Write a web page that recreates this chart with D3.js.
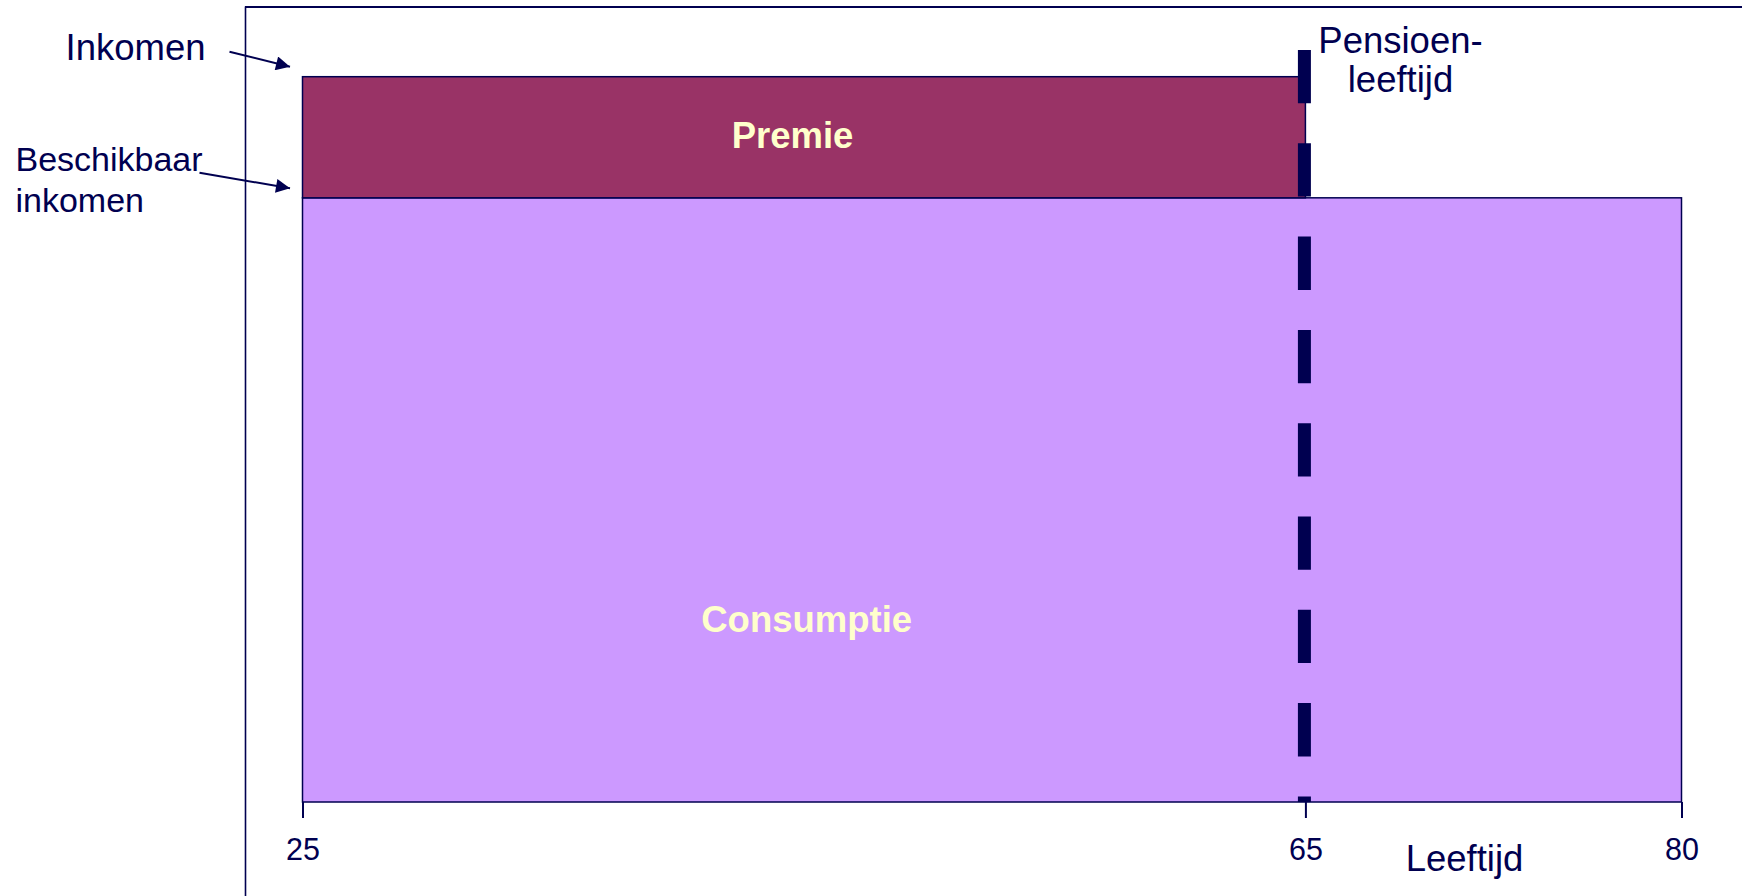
<!DOCTYPE html>
<html>
<head>
<meta charset="utf-8">
<script src="https://cdn.jsdelivr.net/npm/d3@7"></script>
<style>
  html, body { margin: 0; padding: 0; background: #ffffff; }
  svg { display: block; }
  text { font-family: "Liberation Sans", Arial, sans-serif; }
</style>
</head>
<body>
<svg id="chart" width="1742" height="896"></svg>
<script>
// Life-cycle phases (age) and income levels
const ages = [25, 65, 80];            // start of work, retirement age, end of life
const tickLabels = ["25", "65", "80"];
const incomeLevel = 100;              // gross income (Inkomen)
const disposableLevel = 83.3;         // disposable income (Beschikbaar inkomen)
const blockNames = ["Premie", "Consumptie"];
const sideLabels = ["Inkomen", "Beschikbaar", "inkomen"];
const retireLabel = ["Pensioen-", "leeftijd"];
const axisTitle = "Leeftijd";

const navy = "#000050";
const svg = d3.select("#chart");

const x = d3.scaleLinear().domain([ages[0], ages[2]]).range([302.5, 1681.5]);
const y = d3.scaleLinear().domain([0, incomeLevel]).range([802, 76.7]);

// frame lines (left and top)
svg.append("line").attr("x1", 245.5).attr("x2", 245.5).attr("y1", 6.5).attr("y2", 896)
  .attr("stroke", navy).attr("stroke-width", 1.6);
svg.append("line").attr("x1", 245).attr("x2", 1742).attr("y1", 7).attr("y2", 7)
  .attr("stroke", navy).attr("stroke-width", 2);

// blocks: premium paid during working life, consumption over whole life
const blocks = [
  { name: blockNames[1], x0: ages[0], x1: ages[2], y0: 0, y1: disposableLevel, fill: "#CC99FF" },
  { name: blockNames[0], x0: ages[0], x1: ages[1], y0: disposableLevel, y1: incomeLevel, fill: "#993366" }
];
svg.selectAll("rect.block").data(blocks).join("rect")
  .attr("class", "block")
  .attr("x", d => x(d.x0))
  .attr("y", d => y(d.y1))
  .attr("width", d => x(d.x1) - x(d.x0))
  .attr("height", d => y(d.y0) - y(d.y1))
  .attr("fill", d => d.fill)
  .attr("stroke", navy)
  .attr("stroke-width", 1.5);

// block labels
svg.append("text").attr("x", 792.5).attr("y", 148.3)
  .attr("text-anchor", "middle").attr("font-size", 36.5).attr("font-weight", "bold")
  .attr("fill", "#FFFFCC").text(blockNames[0]);
svg.append("text").attr("x", 806.7).attr("y", 632.3)
  .attr("text-anchor", "middle").attr("font-size", 36.5).attr("font-weight", "bold")
  .attr("fill", "#FFFFCC").text(blockNames[1]);

// x axis ticks and labels
const axis = d3.axisBottom(x).tickValues(ages).tickFormat((d, i) => tickLabels[i])
  .tickSize(16).tickPadding(20);
const gx = svg.append("g").attr("transform", "translate(0,802)").call(axis);
gx.select(".domain").remove();
gx.selectAll(".tick line").attr("stroke", navy).attr("stroke-width", 2);
gx.selectAll(".tick text").attr("fill", navy).attr("font-size", 30.5)
  .attr("font-family", "Liberation Sans, Arial, sans-serif");

// axis title
svg.append("text").attr("x", 1464.5).attr("y", 871).attr("text-anchor", "middle")
  .attr("font-size", 36.5).attr("fill", navy).text(axisTitle);

// retirement age dashed line
svg.append("line")
  .attr("x1", x(ages[1]) - 1).attr("x2", x(ages[1]) - 1)
  .attr("y1", y(incomeLevel) - 26.7).attr("y2", y(0))
  .attr("stroke", navy).attr("stroke-width", 13)
  .attr("stroke-dasharray", "53.3 40");

svg.append("text").attr("text-anchor", "middle").attr("font-size", 36.5).attr("fill", navy)
  .selectAll("tspan").data(retireLabel).join("tspan")
  .attr("x", 1400.5).attr("y", (d, i) => 53.3 + i * 38.4).text(d => d);

// side labels with arrows pointing at the income levels
const defs = svg.append("defs");
defs.append("marker").attr("id", "head")
  .attr("viewBox", "0 0 10 10").attr("refX", 10).attr("refY", 5)
  .attr("markerWidth", 17).attr("markerHeight", 14).attr("markerUnits", "userSpaceOnUse")
  .attr("orient", "auto")
  .append("path").attr("d", "M0,0 L10,5 L0,10 Z").attr("fill", navy);

svg.append("text").attr("x", 65.5).attr("y", 60).attr("font-size", 36.5).attr("fill", navy)
  .text(sideLabels[0]);
svg.append("text").attr("font-size", 34).attr("fill", navy)
  .selectAll("tspan").data(sideLabels.slice(1)).join("tspan")
  .attr("x", 15.5).attr("y", (d, i) => 170.7 + i * 41.6).text(d => d);

svg.append("line").attr("x1", 229.5).attr("y1", 51.7).attr("x2", 290).attr("y2", 66.7)
  .attr("stroke", navy).attr("stroke-width", 2).attr("marker-end", "url(#head)");
svg.append("line").attr("x1", 199.5).attr("y1", 172.7).attr("x2", 290).attr("y2", 188.3)
  .attr("stroke", navy).attr("stroke-width", 2).attr("marker-end", "url(#head)");
</script>
</body>
</html>
